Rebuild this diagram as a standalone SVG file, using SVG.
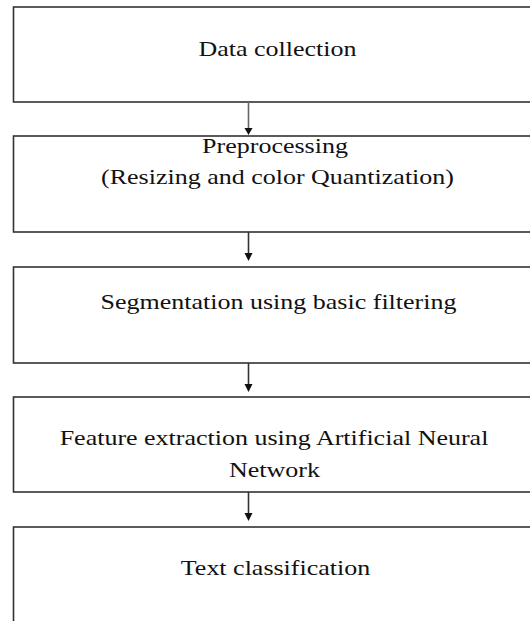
<svg xmlns="http://www.w3.org/2000/svg" width="530" height="621" viewBox="0 0 530 621">
<style>
.box{fill:#fff;stroke:#333;stroke-width:1.6}
.lbl{font-family:"Liberation Serif","Times New Roman",serif;font-size:20px;fill:#111;text-anchor:middle}
.conn{stroke:#333;stroke-width:1.6;fill:none}
</style>
<rect width="530" height="621" fill="#fff"/>
<g id="n1"><rect class="box" x="13.5" y="7" width="530" height="95"/>
<text class="lbl" transform="translate(277.5 56) scale(1.3 1)">Data collection</text></g>
<g id="n2"><rect class="box" x="13.5" y="136" width="530" height="96"/>
<text class="lbl" transform="translate(275 153) scale(1.3 1)">Preprocessing</text>
<text class="lbl" transform="translate(277.5 184) scale(1.3 1)">(Resizing and color Quantization)</text></g>
<g id="n3"><rect class="box" x="13.5" y="267" width="530" height="96"/>
<text class="lbl" transform="translate(278.5 309) scale(1.3 1)">Segmentation using basic filtering</text></g>
<g id="n4"><rect class="box" x="13.5" y="397" width="530" height="95"/>
<text class="lbl" transform="translate(274 445) scale(1.3 1)">Feature extraction using Artificial Neural</text>
<text class="lbl" transform="translate(274.5 477) scale(1.3 1)">Network</text></g>
<g id="n5"><rect class="box" x="13.5" y="527" width="530" height="110"/>
<text class="lbl" transform="translate(275.5 575) scale(1.3 1)">Text classification</text></g>
<g id="connectors">
<line class="conn" x1="248.5" y1="102" x2="248.5" y2="128" style="stroke:#666"/>
<path d="M244.5,128 L252.5,128 L248.5,135 Z" fill="#111"/>
<line class="conn" x1="248.5" y1="232" x2="248.5" y2="254"/>
<path d="M244.5,253 L252.5,253 L248.5,261 Z" fill="#111"/>
<line class="conn" x1="248.5" y1="363" x2="248.5" y2="385"/>
<path d="M244.5,384 L252.5,384 L248.5,392 Z" fill="#111"/>
<line class="conn" x1="248.5" y1="492" x2="248.5" y2="514"/>
<path d="M244.5,513 L252.5,513 L248.5,521 Z" fill="#111"/>
</g>
</svg>
